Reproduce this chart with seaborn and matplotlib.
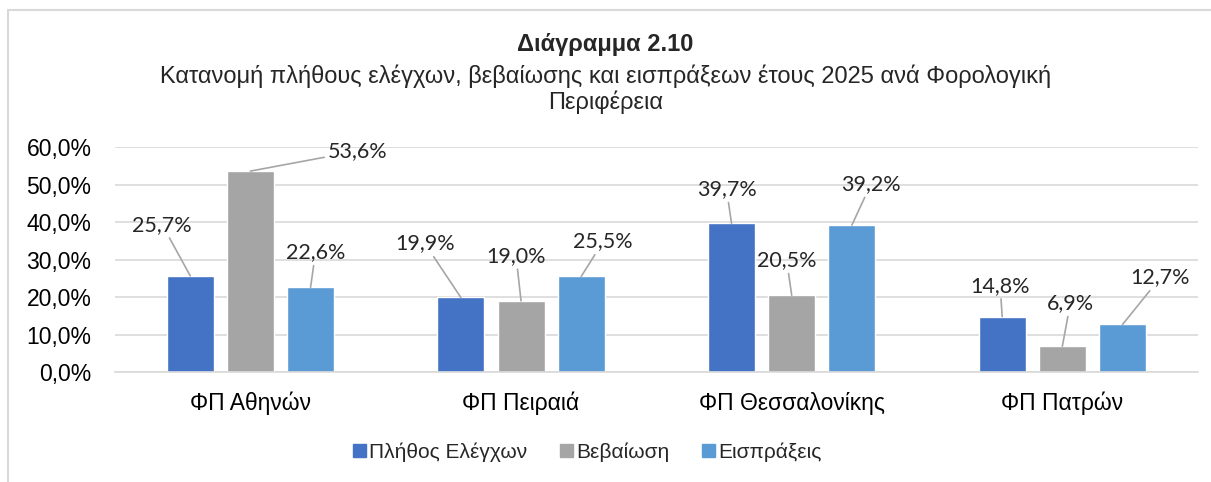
import matplotlib
matplotlib.use("Agg")
import matplotlib.pyplot as plt
import matplotlib.patches as mpatches
from matplotlib.ticker import FuncFormatter
import pandas as pd
import seaborn as sns

# Δεδομένα
regions = ["ΦΠ Αθηνών", "ΦΠ Πειραιά", "ΦΠ Θεσσαλονίκης", "ΦΠ Πατρών"]
series = ["Πλήθος Ελέγχων", "Βεβαίωση", "Εισπράξεις"]
elegxoi = [25.7, 19.9, 39.7, 14.8]
vevaiosi = [53.6, 19.0, 20.5, 6.9]
eispraxeis = [22.6, 25.5, 39.2, 12.7]
colors = ["#4472C4", "#A5A5A5", "#5B9BD5"]

df = pd.DataFrame({
    "region": regions * 3,
    "series": [series[0]] * 4 + [series[1]] * 4 + [series[2]] * 4,
    "value": elegxoi + vevaiosi + eispraxeis,
})

# θέσεις των ετικετών (offset σε pixels από την κορυφή της μπάρας)
label_offsets = {
    0: [(-28, 51), (-36, 54), (-5, 34), (-2, 31)],
    1: [(107, 20), (-5, 45), (-5, 35), (8, 43)],
    2: [(5, 35), (22, 35), (19, 41), (38, 47)],
}

sns.set_style("white")
plt.rcParams["font.family"] = ["Liberation Sans", "DejaVu Sans"]

fig = plt.figure(figsize=(12.11, 4.82), dpi=100)
ax = fig.add_axes([0.095, 0.228, 0.894, 0.4668])

sns.barplot(data=df, x="region", y="value", hue="series", palette=colors,
            width=0.667, gap=0.22, saturation=1, ax=ax, legend=False)

ax.set_ylim(0, 60)
ax.set_yticks(range(0, 61, 10))
ax.yaxis.set_major_formatter(FuncFormatter(lambda v, p: f"{v:.1f}%".replace(".", ",")))
ax.grid(axis="y", color="#D9D9D9", linewidth=1.2)
ax.set_axisbelow(True)
for s in ["top", "right", "left"]:
    ax.spines[s].set_visible(False)
ax.spines["bottom"].set_color("#D9D9D9")
ax.spines["bottom"].set_linewidth(1.2)
ax.tick_params(axis="both", length=0, labelsize=16.5, colors="#000000")
ax.tick_params(axis="y", pad=17)
ax.tick_params(axis="x", pad=14)
ax.set_xlabel("")
ax.set_ylabel("")

# ετικέτες τιμών με γραμμές οδηγούς
for i, cont in enumerate(ax.containers):
    for j, bar in enumerate(cont.patches):
        xc = bar.get_x() + bar.get_width() / 2
        h = bar.get_height()
        txt = f"{h:.1f}%".replace(".", ",")
        ax.annotate(txt, xy=(xc, h), xytext=label_offsets[i][j], textcoords="offset pixels",
                    ha="center", va="center", fontsize=15.5, family=["Lato", "DejaVu Sans"],
                    arrowprops=dict(arrowstyle="-", color="#A6A6A6", lw=1.2,
                                    shrinkA=0, shrinkB=0))

# τίτλος
fig.text(0.5, 1 - 45 / 482, "Διάγραμμα 2.10", ha="center", va="center",
         fontsize=17, fontweight="bold")
fig.text(0.5, 1 - 89 / 482,
         "Κατανομή πλήθους ελέγχων, βεβαίωσης και εισπράξεων έτους 2025 ανά Φορολογική\nΠεριφέρεια",
         ha="center", va="center", fontsize=17, linespacing=1.15)

# υπόμνημα
handles = [mpatches.Patch(color=c, label=s) for c, s in zip(colors, series)]
fig.legend(handles=handles, loc="center", bbox_to_anchor=(0.485, 1 - 452 / 482), ncol=3,
           frameon=False, fontsize=15, handlelength=0.6, handleheight=0.6,
           handletextpad=0.15, columnspacing=1.6)

# πλαίσιο
fig.patches.append(mpatches.Rectangle((8 / 1211, -0.1), 1.2, 1 - 10 / 482 + 0.1,
                                      transform=fig.transFigure, fill=False,
                                      edgecolor="#D9D9D9", linewidth=1.5))

fig.savefig("out.png", dpi=100)
